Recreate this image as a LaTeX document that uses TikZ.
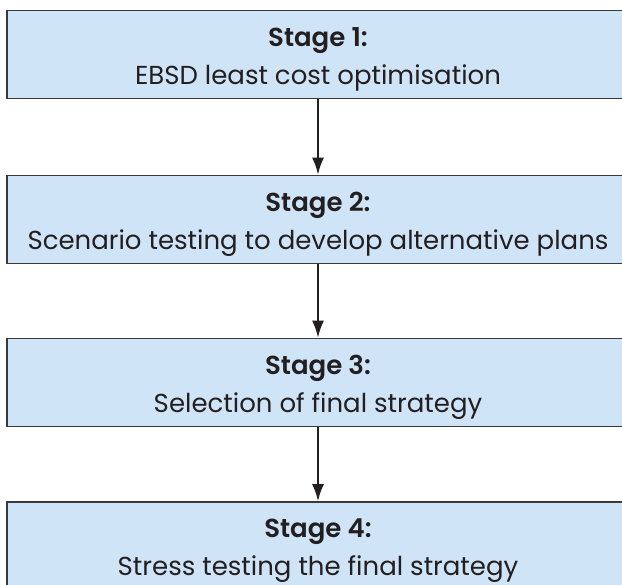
\documentclass[tikz,border=0pt]{standalone}
\usepackage{fontspec}
\setmainfont{Poppins}[BoldFont={Poppins SemiBold}]
\usetikzlibrary{arrows.meta}
\definecolor{boxblue}{HTML}{CFE4F7}
\definecolor{boxline}{HTML}{3A3A3A}
\definecolor{ink}{HTML}{231F20}
\newcommand{\stagehead}[1]{\rule{0pt}{28.5pt}\textbf{Stage #1:}}
\tikzset{stagebox/.style={draw=boxline, line width=1.6pt, fill=boxblue, text=ink,
    minimum width=622pt, minimum height=88pt, align=center, inner sep=0pt,
    font=\fontsize{26}{38}\selectfont}}
\begin{document}
\begin{tikzpicture}[>={Latex[length=17pt,width=12pt]}, x=1pt, y=-1pt]
\useasboundingbox (0,0) rectangle (622,585);
\fill[white] (0,0) rectangle (622,585);

\node[stagebox] (stage1) at (318,54.5) {\stagehead{1}\\EBSD least cost optimisation};
\node[stagebox] (stage2) at (318,219.5) {\stagehead{2}\\Scenario testing to develop alternative plans};
\node[stagebox] (stage3) at (318,382.5) {\stagehead{3}\\Selection of final strategy};
\node[stagebox] (stage4) at (318,546) {\stagehead{4}\\Stress testing the final strategy};

\foreach \a/\b in {stage1/stage2,stage2/stage3,stage3/stage4}
{
    \draw[->, ink, line width=2pt] (\a) -- (\b);
}
\end{tikzpicture}
\end{document}
